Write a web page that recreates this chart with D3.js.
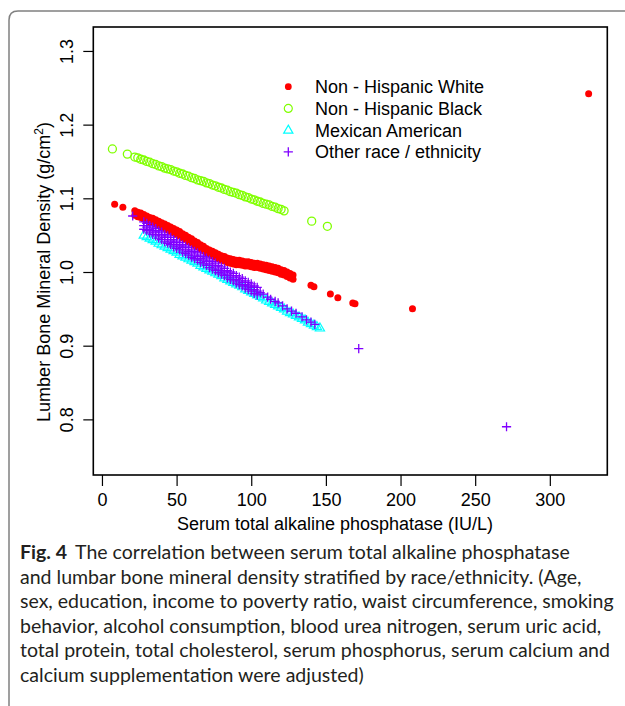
<!DOCTYPE html>
<html>
<head>
<meta charset="utf-8">
<style>
  body { margin: 0; background: #fff; }
  .axis text { font-family: Arial, "Liberation Sans", sans-serif; font-size: 18px; fill: #000; }
  .axis line { stroke: #000; stroke-width: 1.2; }
  .lab { font-family: Arial, "Liberation Sans", sans-serif; font-size: 18px; fill: #000; }
  .cap { font-family: Lato, "Open Sans", sans-serif; fill: #231f20; }
</style>
<script src="https://cdn.jsdelivr.net/npm/d3@7"></script>
</head>
<body>
<svg width="625" height="706"></svg>
<script>
// ticks
var yTicks = [0.8, 0.9, 1.0, 1.1, 1.2, 1.3];
var xTicks = [0, 50, 100, 150, 200, 250, 300];

// Non - Hispanic White: dense band read as upper / lower edge rows
var whiteX = [22, 24, 26, 28, 30, 32, 34, 36, 38, 40,
  42, 44, 46, 48, 50, 52, 54, 56, 58, 60,
  62, 64, 66, 68, 70, 72, 74, 76, 78, 80,
  82, 84, 86, 88, 90, 92, 94, 96, 98, 100,
  102, 104, 106, 108, 110, 112, 114, 116, 118, 120,
  122, 124, 126, 128];
var whiteUpperY = [1.083, 1.081, 1.080, 1.078, 1.076, 1.074, 1.073, 1.071, 1.069, 1.067,
  1.065, 1.063, 1.061, 1.059, 1.057, 1.055, 1.052, 1.050, 1.047, 1.045,
  1.042, 1.040, 1.037, 1.035, 1.032, 1.030, 1.028, 1.026, 1.024, 1.022,
  1.021, 1.019, 1.018, 1.017, 1.016, 1.016, 1.015, 1.014, 1.014, 1.013,
  1.012, 1.012, 1.011, 1.010, 1.009, 1.008, 1.007, 1.006, 1.005, 1.003,
  1.002, 1.000, 0.998, 0.996];
var whiteLowerY = [1.077, 1.075, 1.074, 1.072, 1.070, 1.068, 1.067, 1.065, 1.063, 1.061,
  1.059, 1.057, 1.055, 1.053, 1.051, 1.049, 1.046, 1.044, 1.041, 1.039,
  1.036, 1.034, 1.031, 1.029, 1.026, 1.024, 1.022, 1.020, 1.018, 1.016,
  1.015, 1.013, 1.012, 1.011, 1.010, 1.010, 1.009, 1.008, 1.008, 1.007,
  1.006, 1.006, 1.005, 1.004, 1.003, 1.002, 1.001, 1.000, 0.999, 0.997,
  0.996, 0.994, 0.992, 0.990];
var whiteSparseX = [8.5, 14, 140, 142, 153, 158, 168, 169.5, 208, 326];
var whiteSparseY = [1.092, 1.088, 0.982, 0.980, 0.970, 0.965, 0.958, 0.957, 0.950, 1.242];

// Non - Hispanic Black
var blackX = [7, 17,
  22, 24, 26, 28, 30, 32, 34, 36, 38, 40,
  42, 44, 46, 48, 50, 52, 54, 56, 58, 60,
  62, 64, 66, 68, 70, 72, 74, 76, 78, 80,
  82, 84, 86, 88, 90, 92, 94, 96, 98, 100,
  102, 104, 106, 108, 110, 112, 114, 116, 118, 120,
  122, 140.5, 151];
var blackY = [1.167, 1.160,
  1.156, 1.155, 1.153, 1.152, 1.150, 1.149, 1.147, 1.146, 1.144, 1.143,
  1.141, 1.140, 1.139, 1.137, 1.136, 1.134, 1.133, 1.131, 1.130, 1.128,
  1.127, 1.125, 1.124, 1.123, 1.121, 1.120, 1.118, 1.117, 1.115, 1.114,
  1.112, 1.111, 1.109, 1.108, 1.107, 1.105, 1.104, 1.102, 1.101, 1.099,
  1.098, 1.096, 1.095, 1.093, 1.092, 1.091, 1.089, 1.088, 1.086, 1.085,
  1.083, 1.069, 1.062];

// Mexican American
var mexX = [28, 30, 32, 34, 36, 38, 40, 42, 44, 46,
  48, 50, 52, 54, 56, 58, 60, 62, 64, 66,
  68, 70, 72, 74, 76, 78, 80, 82, 84, 86,
  88, 90, 92, 94, 96, 98, 100, 102, 104, 106,
  108, 110, 112, 114, 116, 118, 120, 122, 124, 126,
  128, 130, 132, 134, 136, 138, 140, 142, 144, 146];
var mexY = [1.050, 1.048, 1.046, 1.044, 1.042, 1.039, 1.037, 1.035, 1.033, 1.031,
  1.029, 1.027, 1.024, 1.022, 1.020, 1.018, 1.016, 1.014, 1.012, 1.009,
  1.007, 1.005, 1.003, 1.001, 0.999, 0.997, 0.995, 0.992, 0.990, 0.988,
  0.986, 0.984, 0.982, 0.980, 0.977, 0.975, 0.973, 0.971, 0.969, 0.967,
  0.965, 0.962, 0.960, 0.958, 0.956, 0.954, 0.952, 0.950, 0.947, 0.945,
  0.943, 0.941, 0.939, 0.937, 0.935, 0.932, 0.930, 0.928, 0.926, 0.924];

// Other race / ethnicity: dense band read as upper, middle and lower rows, then single points
var otherX = [28, 30, 32, 34, 36, 38, 40, 42, 44, 46,
  48, 50, 52, 54, 56, 58, 60, 62, 64, 66,
  68, 70, 72, 74, 76, 78, 80, 82, 84, 86,
  88, 90, 92, 94, 96, 98, 100, 102, 104];
var otherUpperY = [1.068, 1.066, 1.063, 1.061, 1.059, 1.056, 1.054, 1.051, 1.049, 1.047,
  1.044, 1.042, 1.040, 1.037, 1.035, 1.033, 1.030, 1.028, 1.026, 1.023,
  1.021, 1.019, 1.016, 1.014, 1.012, 1.009, 1.007, 1.005, 1.002, 1.000,
  0.998, 0.995, 0.993, 0.991, 0.988, 0.986, 0.984, 0.981, 0.979];
var otherMidY = [1.063, 1.061, 1.058, 1.056, 1.054, 1.051, 1.049, 1.047, 1.044, 1.042,
  1.040, 1.037, 1.035, 1.033, 1.030, 1.028, 1.026, 1.023, 1.021, 1.018,
  1.016, 1.014, 1.011, 1.009, 1.007, 1.004, 1.002, 1.000, 0.997, 0.995,
  0.993, 0.990, 0.988, 0.986, 0.983, 0.981, 0.979, 0.976, 0.974];
var otherLowerY = [1.058, 1.056, 1.053, 1.051, 1.049, 1.046, 1.044, 1.041, 1.039, 1.037,
  1.034, 1.032, 1.030, 1.027, 1.025, 1.023, 1.020, 1.018, 1.016, 1.013,
  1.011, 1.009, 1.006, 1.004, 1.002, 0.999, 0.997, 0.995, 0.992, 0.990,
  0.988, 0.985, 0.983, 0.981, 0.978, 0.976, 0.974, 0.971, 0.969];
var otherSparseX = [20.6, 106, 108, 111, 113, 116, 118, 121, 124, 127, 130, 134, 137, 140, 142.6, 172, 271];
var otherSparseY = [1.076, 0.972, 0.970, 0.966, 0.963, 0.960, 0.958, 0.954, 0.950, 0.947, 0.944, 0.939, 0.935, 0.932, 0.929, 0.896, 0.790];

var legendLabels = ["Non - Hispanic White", "Non - Hispanic Black", "Mexican American", "Other race / ethnicity"];
var colors = ["#FF0000", "#80FF00", "#00FFFF", "#8000FF"];

var captionLines = [
  "The correlation between serum total alkaline phosphatase",
  "and lumbar bone mineral density stratified by race/ethnicity. (Age,",
  "sex, education, income to poverty ratio, waist circumference, smoking",
  "behavior, alcohol consumption, blood urea nitrogen, serum uric acid,",
  "total protein, total cholesterol, serum phosphorus, serum calcium and",
  "calcium supplementation were adjusted)"
];

var svg = d3.select("svg");

// frame round figure
svg.append("path")
  .attr("d", "M9,706V20Q9,11 18,11H625")
  .attr("fill", "none").attr("stroke", "#808080").attr("stroke-width", 1.5);

var x = d3.scaleLinear().domain([-5.8, 338.5]).range([93.3, 607.3]);
var y = d3.scaleLinear().domain([0.7245, 1.3325]).range([475, 27]);

function zip(xs, ys) { return xs.map(function(v, i) { return [v, ys[i]]; }); }

// white: filled dots
var whitePts = zip(whiteX, whiteUpperY).concat(zip(whiteX, whiteLowerY), zip(whiteSparseX, whiteSparseY));
svg.append("g").selectAll("circle").data(whitePts).enter().append("circle")
  .attr("cx", function(d) { return x(d[0]); })
  .attr("cy", function(d) { return y(d[1]); })
  .attr("r", 3.5).attr("fill", colors[0]);

// black: open circles
svg.append("g").selectAll("circle").data(zip(blackX, blackY)).enter().append("circle")
  .attr("cx", function(d) { return x(d[0]); })
  .attr("cy", function(d) { return y(d[1]); })
  .attr("r", 4).attr("fill", "none").attr("stroke", colors[1]).attr("stroke-width", 1.3);

// mexican: open triangles
var tri = "M0,-5L4.6,3L-4.6,3Z";
svg.append("g").selectAll("path").data(zip(mexX, mexY)).enter().append("path")
  .attr("transform", function(d) { return "translate(" + x(d[0]) + "," + y(d[1]) + ")"; })
  .attr("d", tri).attr("fill", "none").attr("stroke", colors[2]).attr("stroke-width", 1.2);

// other: plus signs
var plus = "M-4.6,0H4.6M0,-4.6V4.6";
var otherPts = zip(otherX, otherUpperY).concat(zip(otherX, otherMidY), zip(otherX, otherLowerY), zip(otherSparseX, otherSparseY));
svg.append("g").selectAll("path").data(otherPts).enter().append("path")
  .attr("transform", function(d) { return "translate(" + x(d[0]) + "," + y(d[1]) + ")"; })
  .attr("d", plus).attr("fill", "none").attr("stroke", colors[3]).attr("stroke-width", 1.3);

// axes
var gy = svg.append("g").attr("class", "axis").attr("transform", "translate(93.3,0)")
  .call(d3.axisLeft(y).tickValues(yTicks).tickFormat(d3.format(".1f")).tickSize(10));
gy.select(".domain").remove();
gy.selectAll("text").attr("x", 0).attr("dy", 0).attr("y", 0)
  .attr("text-anchor", "middle").attr("transform", "translate(-20.5,0) rotate(-90)");

var gx = svg.append("g").attr("class", "axis").attr("transform", "translate(0,475)")
  .call(d3.axisBottom(x).tickValues(xTicks).tickSize(11).tickPadding(7));
gx.select(".domain").remove();

// plot box
svg.append("rect").attr("x", 93.3).attr("y", 27).attr("width", 514).attr("height", 448)
  .attr("fill", "none").attr("stroke", "#000").attr("stroke-width", 1.6);

// axis titles
svg.append("text").attr("class", "lab").attr("text-anchor", "middle")
  .attr("x", 335).attr("y", 530).text("Serum total alkaline phosphatase (IU/L)");
var yt = svg.append("text").attr("class", "lab").attr("text-anchor", "middle")
  .attr("transform", "translate(50,272) rotate(-90)");
yt.append("tspan").text("Lumber Bone Mineral Density (g/cm");
yt.append("tspan").attr("font-size", "12px").attr("dy", -7).text("2");
yt.append("tspan").attr("dy", 7).text(")");

// legend
var leg = svg.append("g").selectAll("g").data(legendLabels).enter().append("g")
  .attr("transform", function(d, i) { return "translate(288.3," + (86.7 + i * 21.7) + ")"; });
leg.append("text").attr("class", "lab").attr("x", 26.7).attr("y", 6.4).text(function(d) { return d; });
leg.each(function(d, i) {
  var g = d3.select(this);
  if (i === 0) g.append("circle").attr("r", 3.4).attr("fill", colors[0]);
  if (i === 1) g.append("circle").attr("r", 4).attr("fill", "none").attr("stroke", colors[1]).attr("stroke-width", 1.2);
  if (i === 2) g.append("path").attr("d", tri).attr("fill", "none").attr("stroke", colors[2]).attr("stroke-width", 1.2);
  if (i === 3) g.append("path").attr("d", plus).attr("fill", "none").attr("stroke", colors[3]).attr("stroke-width", 1.3);
});

// caption: font size chosen so the widest line spans like the reference
var baseY = 559, lineH = 24.6;
var capTexts = captionLines.map(function(t, i) {
  return svg.append("text").attr("class", "cap").attr("font-size", "19px")
    .attr("x", i === 0 ? 77.7 : 20).attr("y", baseY + i * lineH).text(t);
});
var fig = svg.append("text").attr("class", "cap").attr("font-size", "19px")
  .attr("x", 20).attr("y", baseY).attr("font-weight", "bold").text("Fig. 4");
var fs = 19 * 594 / capTexts[2].node().getComputedTextLength();
capTexts.concat([fig]).forEach(function(t) { t.attr("font-size", fs + "px"); });
var figW = fig.node().getComputedTextLength();
capTexts[0].attr("x", 20 + figW + 8);
</script>
</body>
</html>
